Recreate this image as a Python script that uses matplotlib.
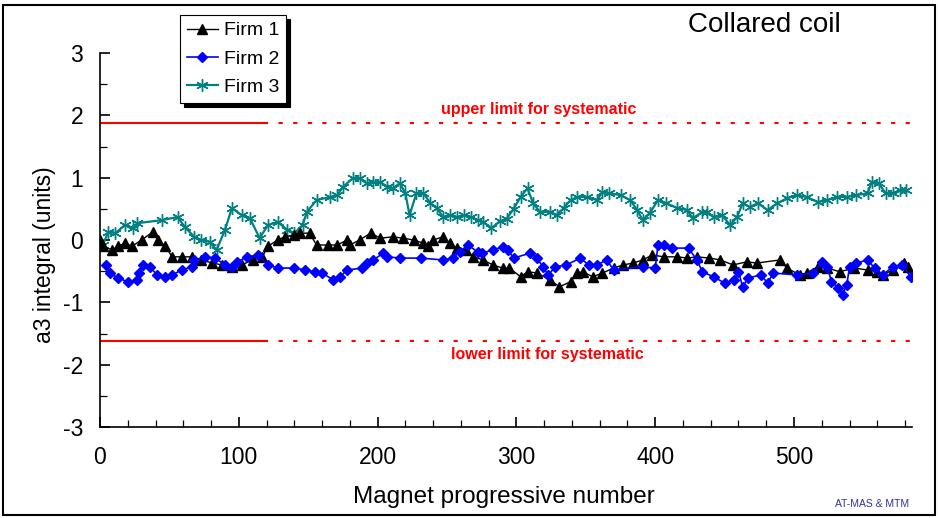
import matplotlib
matplotlib.use("Agg")
import matplotlib.pyplot as plt
from matplotlib.patches import Rectangle

plt.rcParams['font.family'] = ['Liberation Sans', 'DejaVu Sans']
plt.rcParams['axes.unicode_minus'] = False

# ---------------- data ----------------
firm1_x = [0, 2, 9, 13, 18, 23, 30, 38, 42, 47, 52, 59, 66, 73, 81, 88, 95, 102, 110, 117,
           121, 128, 133, 140, 144, 151, 156, 164, 171, 178, 180, 187, 195, 202, 211, 218, 226,
           233, 236, 240, 247, 252, 257, 264, 269, 276, 283, 290, 295, 303, 308, 315, 324, 331,
           339, 344, 348, 355, 362, 370, 377, 384, 391, 398, 406, 416, 423, 430, 439, 447, 456,
           466, 473, 490, 495, 504, 509, 517, 524, 533, 543, 553, 560, 564, 571, 579, 582]
firm1_y = [0.0, -0.10, -0.16, -0.10, -0.05, -0.10, 0.0, 0.13, 0.0, -0.10, -0.27, -0.27, -0.27,
           -0.32, -0.37, -0.40, -0.43, -0.40, -0.32, -0.27, -0.10, 0.0, 0.05, 0.08, 0.11, 0.11,
           -0.08, -0.08, -0.08, 0.0, -0.08, 0.0, 0.11, 0.03, 0.05, 0.03, 0.0, -0.05, -0.10, 0.0,
           0.05, -0.05, -0.13, -0.16, -0.27, -0.32, -0.40, -0.45, -0.45, -0.59, -0.51, -0.53,
           -0.64, -0.75, -0.67, -0.53, -0.51, -0.59, -0.53, -0.45, -0.40, -0.37, -0.32, -0.24,
           -0.27, -0.27, -0.29, -0.27, -0.29, -0.32, -0.40, -0.35, -0.37, -0.32, -0.45, -0.56,
           -0.53, -0.43, -0.45, -0.51, -0.45, -0.48, -0.51, -0.56, -0.48, -0.37, -0.43]

firm2_x = [4, 7, 13, 20, 27, 28, 31, 36, 41, 47, 52, 59, 66, 68, 76, 83, 90, 95, 99, 106, 114,
           121, 128, 140, 148, 155, 160, 168, 173, 178, 189, 192, 197, 204, 207, 216, 231, 247,
           254, 259, 265, 272, 275, 283, 290, 294, 298, 310, 315, 319, 323, 328, 336, 346, 352,
           358, 365, 370, 391, 400, 402, 406, 412, 424, 430, 434, 442, 450, 457, 460, 463, 467,
           476, 481, 485, 502, 514, 520, 524, 527, 532, 535, 538, 540, 545, 553, 558, 564, 571,
           578, 584]
firm2_y = [-0.40, -0.53, -0.61, -0.67, -0.64, -0.53, -0.40, -0.43, -0.56, -0.59, -0.56, -0.48,
           -0.43, -0.32, -0.27, -0.29, -0.40, -0.43, -0.35, -0.27, -0.24, -0.40, -0.45, -0.45,
           -0.48, -0.51, -0.53, -0.64, -0.59, -0.48, -0.45, -0.37, -0.32, -0.21, -0.27, -0.29,
           -0.29, -0.32, -0.29, -0.19, -0.08, -0.19, -0.21, -0.16, -0.11, -0.16, -0.29, -0.21,
           -0.29, -0.43, -0.56, -0.43, -0.40, -0.29, -0.40, -0.40, -0.32, -0.48, -0.43, -0.45,
           -0.08, -0.08, -0.13, -0.13, -0.32, -0.51, -0.59, -0.69, -0.64, -0.51, -0.75, -0.61,
           -0.56, -0.69, -0.53, -0.56, -0.53, -0.35, -0.43, -0.67, -0.77, -0.88, -0.72, -0.43,
           -0.37, -0.32, -0.45, -0.56, -0.43, -0.40, -0.59]

firm3_x = [2, 6, 11, 18, 24, 27, 45, 56, 61, 68, 73, 79, 84, 90, 95, 102, 108, 115, 121, 128,
           135, 140, 146, 149, 156, 166, 171, 175, 182, 187, 192, 197, 202, 207, 211, 216, 220,
           223, 228, 233, 238, 243, 247, 252, 257, 262, 267, 272, 276, 282, 288, 293, 298, 303,
           308, 312, 317, 324, 329, 334, 339, 344, 351, 358, 362, 367, 375, 382, 387, 391, 396,
           402, 408, 416, 423, 427, 434, 437, 442, 448, 454, 459, 463, 468, 474, 481, 488, 495,
           502, 509, 517, 524, 531, 538, 545, 553, 556, 561, 566, 571, 576, 581]
firm3_y = [-0.08, 0.13, 0.11, 0.24, 0.19, 0.27, 0.32, 0.37, 0.21, 0.05, 0.0, -0.03, -0.16, 0.16,
           0.51, 0.40, 0.35, 0.03, 0.24, 0.29, 0.16, 0.11, 0.24, 0.45, 0.64, 0.69, 0.72, 0.85,
           0.99, 0.99, 0.91, 0.93, 0.93, 0.85, 0.83, 0.91, 0.75, 0.40, 0.75, 0.75, 0.59, 0.51,
           0.37, 0.40, 0.37, 0.40, 0.37, 0.32, 0.29, 0.19, 0.30, 0.34, 0.50, 0.69, 0.83, 0.59,
           0.45, 0.45, 0.40, 0.51, 0.64, 0.69, 0.69, 0.64, 0.77, 0.75, 0.72, 0.64, 0.48, 0.32,
           0.43, 0.64, 0.59, 0.51, 0.48, 0.35, 0.45, 0.45, 0.37, 0.40, 0.24, 0.37, 0.59, 0.53,
           0.59, 0.48, 0.59, 0.67, 0.72, 0.69, 0.61, 0.64, 0.69, 0.69, 0.72, 0.75, 0.93, 0.91,
           0.75, 0.75, 0.80, 0.80]

series_labels = ["Firm 1", "Firm 2", "Firm 3"]
upper_limit = 1.88
lower_limit = -1.62
limit_solid_end = 118
x_max = 585
x_ticks = [0, 100, 200, 300, 400, 500]
y_ticks = [-3, -2, -1, 0, 1, 2, 3]

# ---------------- figure ----------------
fig = plt.figure(figsize=(9.38, 5.18), dpi=100)
ax = fig.add_axes([100/938, 1-427/518, (912-100)/938, (427-53)/518])

ax.plot(firm1_x, firm1_y, color='black', lw=1.0, marker='^', ms=7, mec='black', mfc='black',
        label=series_labels[0], zorder=3)
ax.plot(firm2_x, firm2_y, color='#0000FF', lw=1.2, marker='D', ms=5.5, mec='#0000FF', mfc='#0000FF',
        label=series_labels[1], zorder=4)
ax.plot(firm3_x, firm3_y, color='#008080', lw=1.6, marker=(6, 2, 0), ms=9, mew=1.0, mec='#008080',
        label=series_labels[2], zorder=2)

# limits
ax.plot([0, limit_solid_end], [upper_limit, upper_limit], color='red', lw=1.5, zorder=1)
ax.plot([limit_solid_end, x_max], [upper_limit, upper_limit], color='red', lw=1.5,
        ls=(0, (2, 5)), zorder=1)
ax.plot([0, limit_solid_end], [lower_limit, lower_limit], color='red', lw=1.5, zorder=1)
ax.plot([limit_solid_end, x_max], [lower_limit, lower_limit], color='red', lw=1.5,
        ls=(0, (2, 5)), zorder=1)
ax.text(316, 2.1, "upper limit for systematic", color='red', fontweight='bold',
        fontsize=11.5, ha='center', va='center')
ax.text(322, -1.83, "lower limit for systematic", color='red', fontweight='bold',
        fontsize=11.5, ha='center', va='center')

ax.set_xlim(0, x_max)
ax.set_ylim(-3, 3)
ax.set_xticks(x_ticks)
ax.set_xticks(range(0, x_max, 20), minor=True)
ax.set_yticks(y_ticks)
ax.set_yticks([v / 2 for v in range(-6, 7)], minor=True)
for s in ['top', 'right']:
    ax.spines[s].set_visible(False)
for s in ['left', 'bottom']:
    ax.spines[s].set_linewidth(1.2)
ax.tick_params(axis='both', which='major', direction='in', length=7, width=1.2, labelsize=16.5)
ax.tick_params(axis='both', which='minor', direction='in', length=5, width=0.9)
ax.tick_params(axis='x', which='major', pad=14)
ax.tick_params(axis='y', which='major', pad=12)

fig.text(504/938, 1-497/518, "Magnet progressive number", fontsize=17.5, ha='center', va='center')
fig.text(45/938, 1-255/518, "a3 integral (units)", fontsize=16.5, ha='center', va='center',
         rotation=90)
fig.text(764/938, 1-25/518, "Collared coil", fontsize=20, ha='center', va='center')
fig.text(872/938, 1-504/518, "AT-MAS & MTM", fontsize=7.5, color='#333399', ha='center',
         va='center')

leg = ax.legend(loc='upper left', bbox_to_anchor=(180/938, 1-15/518),
                bbox_transform=fig.transFigure, fontsize=14, frameon=True, fancybox=False,
                edgecolor='black', framealpha=1, borderpad=0.35, labelspacing=0.55,
                handlelength=1.6, handletextpad=0.3, borderaxespad=0,
                shadow={'color': 'black', 'alpha': 1, 'ox': 3, 'oy': -3})
leg.get_frame().set_linewidth(0.8)

fig.patches.append(Rectangle((3/938, 3/518), 932/938, 510/518, transform=fig.transFigure,
                             fill=False, edgecolor='black', lw=1.5))

fig.savefig("out.png", dpi=100)
